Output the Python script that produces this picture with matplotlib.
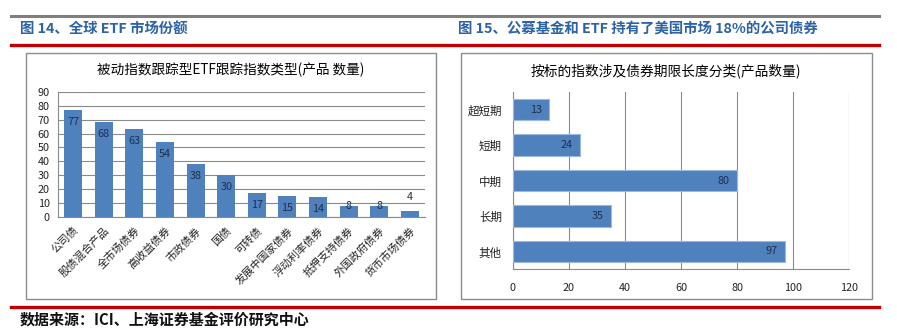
import matplotlib
matplotlib.use("Agg")
import matplotlib.pyplot as plt
from matplotlib.lines import Line2D
from matplotlib.patches import Rectangle

plt.rcParams['font.family'] = ['Noto Sans CJK SC', 'DejaVu Sans']

# data
etf_types = ['公司债', '股债混合产品', '全市场债券', '高收益债券', '市政债券', '国债', '可转债',
             '发展中国家债券', '浮动利率债券', '抵押支持债券', '外国政府债券', '货币市场债券']
etf_counts = [77, 68, 63, 54, 38, 30, 17, 15, 14, 8, 8, 4]

terms = ['超短期', '短期', '中期', '长期', '其他']
term_counts = [13, 24, 80, 35, 97]

W, H = 897, 336
BAR = '#4F81BD'
GRID = '#8A8A8A'
HEAD = '#2C62A6'
LBL = '#1F2F4F'


def fx(x):
    return x / W


def fy(y):
    return 1 - y / H


def box(x0, y0, x1, y1):
    return [fx(x0), fy(y1), fx(x1) - fx(x0), fy(y0) - fy(y1)]


fig = plt.figure(figsize=(W / 100, H / 100), dpi=100)

# header / footer rules
fig.add_artist(Line2D([fx(11), fx(879)], [fy(15.5), fy(15.5)], color='#7F7F7F', lw=2.2))
fig.add_artist(Line2D([fx(11), fx(879)], [fy(44.5), fy(44.5)], color='#C00000', lw=2.4))
fig.add_artist(Line2D([fx(11), fx(879)], [fy(306.5), fy(306.5)], color='#C00000', lw=2.4))

fig.text(fx(20), fy(29), '图 14、全球 ETF 市场份额', fontsize=10.4, fontweight='bold',
         color=HEAD, va='center', ha='left')
fig.text(fx(458), fy(29), '图 15、公募基金和 ETF 持有了美国市场 18%的公司债券', fontsize=10.4,
         fontweight='bold', color=HEAD, va='center', ha='left')
fig.text(fx(20), fy(320), '数据来源：ICI、上海证券基金评价研究中心', fontsize=10.8,
         fontweight='bold', color='#111111', va='center', ha='left')

# chart frames
for x0, x1 in [(25.5, 436), (461, 872)]:
    fig.add_artist(Rectangle((fx(x0), fy(298.5)), fx(x1) - fx(x0), fy(52.5) - fy(298.5),
                             transform=fig.transFigure, fill=False, ec='#8C8C8C', lw=1))

fig.text(fx(230.5), fy(70), '被动指数跟踪型ETF跟踪指数类型(产品 数量)', fontsize=9.8,
         ha='center', va='center')
fig.text(fx(666), fy(71), '按标的指数涉及债券期限长度分类(产品数量)', fontsize=9.9,
         ha='center', va='center')

# ---- left: vertical bars
ax1 = fig.add_axes(box(58, 92, 425, 216.7))
xs = range(len(etf_types))
ax1.bar(xs, etf_counts, width=0.59, color=BAR, zorder=3)
ax1.set_xlim(-0.5, len(etf_types) - 0.5)
ax1.set_ylim(0, 90)
ax1.set_yticks(range(0, 91, 10))
ax1.yaxis.grid(True, color=GRID, lw=0.8, zorder=0)
ax1.set_xticks(list(xs))
ax1.set_xticklabels(etf_types, rotation=45, ha='right', va='top', rotation_mode='anchor',
                    fontsize=7.8)
ax1.tick_params(axis='both', length=0, colors='#222222')
ax1.tick_params(axis='y', labelsize=7.8, pad=6)
ax1.tick_params(axis='x', pad=6)
for s in ['top', 'right']:
    ax1.spines[s].set_visible(False)
for s in ['left', 'bottom']:
    ax1.spines[s].set_color(GRID)
    ax1.spines[s].set_linewidth(0.8)
for i, v in enumerate(etf_counts):
    if v >= 12:
        off = -8.6
    elif v >= 6:
        off = 0
    else:
        off = 10
    ax1.annotate(str(v), (i, v), xytext=(0, off), textcoords='offset points',
                 ha='center', va='center', fontsize=7.8, color=LBL, zorder=4)

# ---- right: horizontal bars
ax2 = fig.add_axes(box(513, 92, 849, 269))
ys = range(len(terms))
ax2.barh(ys, term_counts, height=0.6, color=BAR, ec='#9DB8DE', lw=0.8, zorder=3)
ax2.set_ylim(len(terms) - 0.5, -0.5)
ax2.set_xlim(0, 120)
ax2.set_xticks(range(0, 121, 20))
ax2.xaxis.grid(True, color=GRID, lw=0.8, zorder=0)
ax2.set_yticks(list(ys))
ax2.set_yticklabels(terms, fontsize=8.3)
ax2.tick_params(axis='both', length=0, colors='#222222')
ax2.tick_params(axis='x', labelsize=7.8, pad=10)
ax2.tick_params(axis='y', pad=8)
for s in ['top', 'right']:
    ax2.spines[s].set_visible(False)
for s in ['left', 'bottom']:
    ax2.spines[s].set_color(GRID)
    ax2.spines[s].set_linewidth(0.8)
for i, v in enumerate(term_counts):
    ax2.annotate(str(v), (v, i), xytext=(-9.5, 0), textcoords='offset points',
                 ha='center', va='center', fontsize=7.8, color=LBL, zorder=4)

fig.savefig('out.png', dpi=100)
